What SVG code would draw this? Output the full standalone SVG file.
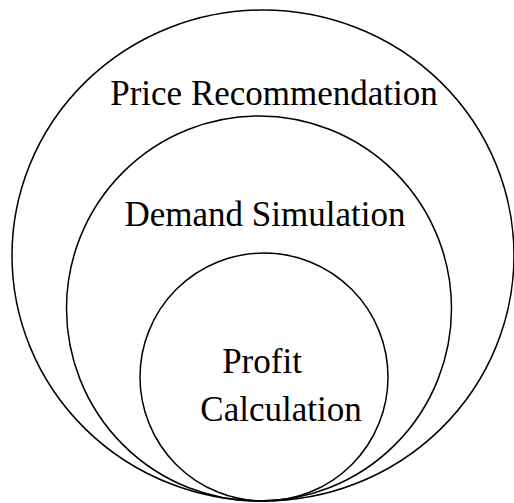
<svg xmlns="http://www.w3.org/2000/svg" width="514" height="503" viewBox="0 0 514 503">
  <style>
    .ring { fill: none; stroke: #000; stroke-width: 1.5; }
    .label { font-family: "Liberation Serif", "Times New Roman", serif; font-size: 35px; fill: #000; text-anchor: middle; }
  </style>
  <rect width="514" height="503" fill="#fff"/>
  <g id="price-recommendation">
    <ellipse class="ring" cx="263" cy="255.5" rx="251" ry="245.5"/>
    <text class="label" x="274" y="105">Price Recommendation</text>
  </g>
  <g id="demand-simulation">
    <circle class="ring" cx="259" cy="308.5" r="192.5"/>
    <text class="label" x="265" y="226">Demand Simulation</text>
  </g>
  <g id="profit-calculation">
    <circle class="ring" cx="264" cy="377" r="124"/>
    <text class="label" x="262" y="373">Profit</text>
    <text class="label" x="281" y="421">Calculation</text>
  </g>
  <g id="connectors"/>
</svg>
